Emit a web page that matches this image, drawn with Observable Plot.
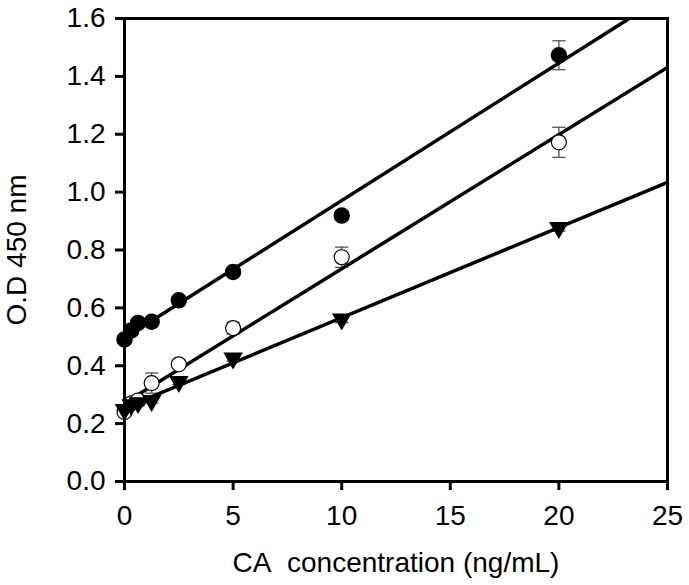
<!DOCTYPE html>
<html>
<head>
<meta charset="utf-8">
<script src="https://cdn.jsdelivr.net/npm/d3@7"></script>
<script src="https://cdn.jsdelivr.net/npm/@observablehq/plot@0.6"></script>
<style>
  html, body { margin: 0; padding: 0; background: #fff; }
  #chart svg { display: block; }
</style>
</head>
<body>
<div id="chart"></div>
<script>
// Concentrations (ng/mL)
const conc = [0, 0.3125, 0.625, 1.25, 2.5, 5, 10, 20];
// Filled circles
const odFilled  = [0.491, 0.522, 0.548, 0.552, 0.626, 0.724, 0.919, 1.473];
const errFilled = [0.012, 0.010, 0.010, 0.010, 0.010, 0.012, 0.015, 0.050];
// Open circles
const odOpen  = [0.240, 0.270, 0.280, 0.340, 0.405, 0.530, 0.775, 1.172];
const errOpen = [0.012, 0.010, 0.010, 0.035, 0.010, 0.020, 0.035, 0.052];
// Down triangles
const odTri  = [0.248, 0.265, 0.272, 0.279, 0.345, 0.426, 0.561, 0.877];
const errTri = [0.010, 0.008, 0.008, 0.008, 0.010, 0.010, 0.012, 0.012];
// Fitted lines (intercept, slope)
const seriesNames = ["filled", "open", "triangle"];
const fitIntercept = [0.496, 0.271, 0.254];
const fitSlope = [0.0475, 0.0464, 0.0312];
const lineX = [0, 25];
// Ticks
const xTicks = [0, 5, 10, 15, 20, 25];
const yTicks = [0, 0.2, 0.4, 0.6, 0.8, 1.0, 1.2, 1.4, 1.6];

const mk = (ys, es, s) => conc.map((x, i) => ({x, y: ys[i], e: es[i], s}));
const pts = [
  ...mk(odFilled, errFilled, "filled"),
  ...mk(odOpen, errOpen, "open"),
  ...mk(odTri, errTri, "triangle")
];
const fits = seriesNames.flatMap((s, k) =>
  lineX.map(x => ({s, x, y: fitIntercept[k] + fitSlope[k] * x})));

// horizontal cap symbol for error bars
const capSymbol = {
  draw(ctx, size) {
    const w = Math.sqrt(size) / 2;
    ctx.moveTo(-w, 0);
    ctx.lineTo(w, 0);
  }
};

const plot = Plot.plot({
  width: 689,
  height: 585,
  marginLeft: 124,
  marginRight: 22,
  marginTop: 18,
  marginBottom: 104,
  style: {fontFamily: "'Liberation Sans', Arial, sans-serif", fontSize: "28px", color: "#000", background: "#fff"},
  x: {type: "linear", domain: [0, 25], ticks: xTicks},
  y: {type: "linear", domain: [0, 1.6], ticks: yTicks},
  symbol: {type: "identity"},
  marks: [
    Plot.axisX({ticks: xTicks, tickSize: 9, tickPadding: 15, strokeWidth: 3, fontSize: 28,
      label: "CA\u00a0 concentration (ng/mL)", labelAnchor: "center", labelOffset: 90, labelArrow: "none"}),
    Plot.axisY({ticks: yTicks, tickSize: 9, tickPadding: 10, strokeWidth: 3, fontSize: 28,
      tickFormat: d3.format(".1f"),
      label: "O.D 450 nm", labelAnchor: "center", labelOffset: 118, labelArrow: "none"}),
    // error bars
    Plot.ruleX(pts, {x: "x", y1: d => d.y - d.e, y2: d => d.y + d.e, stroke: "#555", strokeWidth: 1.3}),
    Plot.dot(pts, {x: "x", y: d => d.y + d.e, symbol: () => capSymbol, r: 7.5, fill: "none", stroke: "#555", strokeWidth: 1.3}),
    Plot.dot(pts, {x: "x", y: d => d.y - d.e, symbol: () => capSymbol, r: 7.5, fill: "none", stroke: "#555", strokeWidth: 1.3}),
    Plot.line(fits, {x: "x", y: "y", z: "s", stroke: "black", strokeWidth: 3.5, clip: true}),
    Plot.dot(pts.filter(d => d.s === "filled"), {x: "x", y: "y", r: 7.5, fill: "black", stroke: "black"}),
    Plot.dot(pts.filter(d => d.s === "open"), {x: "x", y: "y", r: 7.5, fill: "white", stroke: "black", strokeWidth: 1.2}),
    Plot.dot(pts.filter(d => d.s === "triangle"), {x: "x", y: "y", symbol: () => d3.symbolTriangle, rotate: 180, r: 6.3, fill: "black", stroke: "black"}),
    Plot.frame({stroke: "black", strokeWidth: 3})
  ]
});
document.getElementById("chart").append(plot);
</script>
</body>
</html>
